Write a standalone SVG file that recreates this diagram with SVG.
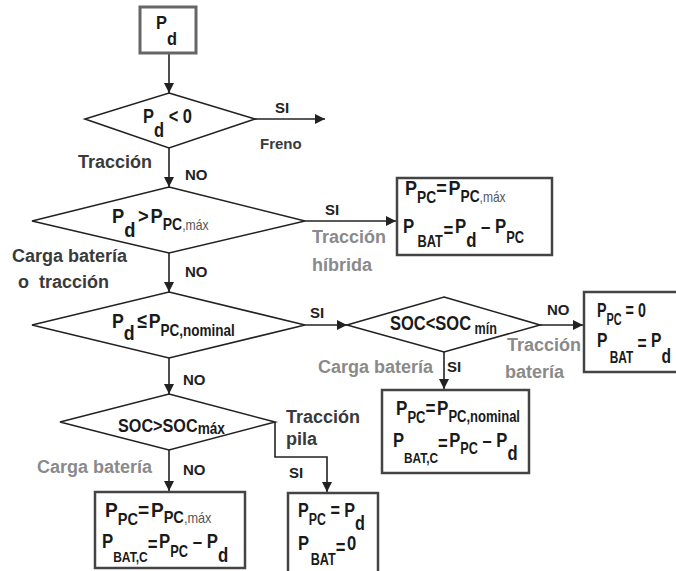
<svg xmlns="http://www.w3.org/2000/svg" width="676" height="571" viewBox="0 0 676 571">
<defs>
<marker id="ah" viewBox="0 0 10 10" refX="10" refY="5" markerWidth="10" markerHeight="10" markerUnits="userSpaceOnUse" orient="auto">
<path d="M0,0 L10,5 L0,10 Z" fill="#222"/>
</marker>
<style>
text{font-family:"Liberation Sans",Arial,sans-serif;font-weight:bold;fill:#1a1a1a}
.eq{font-size:21px}
.sub{font-size:16px}
.lt{font-weight:normal;font-size:14px;fill:#555}
.lbl{font-size:18px;fill:#3a3a3a}
.gl{font-size:18px;fill:#8a8a8a}
.yn{font-size:15px;fill:#222}
.box{fill:#fff;stroke:#444;stroke-width:2.5}
.dia{fill:#fff;stroke:#222;stroke-width:1.6}
.con{fill:none;stroke:#222;stroke-width:1.6;marker-end:url(#ah)}
</style>
</defs>
<rect width="676" height="571" fill="#fff"/>

<g id="connectors">
<path class="con" d="M169,53 V93"/>
<path class="con" d="M255,119 H325"/>
<path class="con" d="M169,148 V187"/>
<path class="con" d="M305,221 H396"/>
<path class="con" d="M169,253 V292"/>
<path class="con" d="M305,325 H347"/>
<path class="con" d="M540,325 H583"/>
<path class="con" d="M444,352 V389"/>
<path class="con" d="M169,358 V394"/>
<path class="con" d="M169,450 V491"/>
<path class="con" d="M275,422 V457 H327 V492"/>
</g>

<g id="labels">
<text class="yn" x="275" y="113">SI</text>
<text class="lbl" x="260" y="149" style="font-size:15px">Freno</text>
<text class="lbl" x="78" y="168">Tracción</text>
<text class="yn" x="185" y="180">NO</text>
<text class="yn" x="325" y="215">SI</text>
<text class="gl" x="312" y="243">Tracción</text>
<text class="gl" x="312" y="271">híbrida</text>
<text class="lbl" x="12" y="262">Carga batería</text>
<text class="lbl" x="18" y="288" xml:space="preserve">o  tracción</text>
<text class="yn" x="185" y="277">NO</text>
<text class="yn" x="310" y="318">SI</text>
<text class="yn" x="547" y="315">NO</text>
<text class="gl" x="507" y="351">Tracción</text>
<text class="gl" x="505" y="378">batería</text>
<text class="gl" x="318" y="373">Carga batería</text>
<text class="yn" x="447" y="372">SI</text>
<text class="yn" x="183" y="385">NO</text>
<text class="lbl" x="286" y="423">Tracción</text>
<text class="lbl" x="286" y="445">pila</text>
<text class="gl" x="37" y="473">Carga batería</text>
<text class="yn" x="183" y="475">NO</text>
<text class="yn" x="289" y="478">SI</text>
</g>

<g id="start">
<rect class="box" x="140" y="7" width="56" height="46" style="stroke:#666;stroke-width:3"/>
<text class="eq" transform="translate(156,29) scale(.865,1)" style="font-size:19px">P<tspan dy="16">d</tspan></text>
</g>

<g id="dec1">
<polygon class="dia" points="169,93 255,119 169,148 85,119"/>
<text class="eq" transform="translate(143,123) scale(.785,1)">P<tspan dy="14">d</tspan><tspan dy="-14"> &lt; 0</tspan></text>
</g>

<g id="dec2">
<polygon class="dia" points="169,187 305,221 169,253 32,221"/>
<text class="eq" transform="translate(112,223) scale(.873,1)">P<tspan dy="14">d</tspan><tspan dy="-14" dx="3">&gt;</tspan><tspan dx="2">P</tspan><tspan class="sub" dy="7">PC</tspan><tspan class="lt">,máx</tspan></text>
</g>

<g id="res-hibrida">
<rect class="box" x="397" y="178" width="155" height="77"/>
<text class="eq" transform="translate(405,195) scale(.86,1)">P<tspan class="sub" dy="8">PC</tspan><tspan dy="-8">=</tspan><tspan dx="2">P</tspan><tspan class="sub" dy="7">PC</tspan><tspan class="lt">,máx</tspan></text>
<text class="eq" transform="translate(403,233) scale(.80,1)">P<tspan class="sub" dy="14" dx="4">BAT</tspan><tspan dy="-10" dx="1">=</tspan><tspan dy="-4" dx="2">P</tspan><tspan dy="14">d</tspan><tspan dy="-14"> – </tspan><tspan>P</tspan><tspan class="sub" dy="10">PC</tspan></text>
</g>

<g id="dec3">
<polygon class="dia" points="169,292 305,325 169,358 32,325"/>
<text class="eq" transform="translate(112,328) scale(.846,1)">P<tspan dy="12">d</tspan><tspan dy="-12" dx="3">≤</tspan><tspan dx="2">P</tspan><tspan class="sub" dy="8">PC,nominal</tspan></text>
</g>

<g id="dec4">
<polygon class="dia" points="444,297 540,325 444,352 347,325"/>
<text class="eq" transform="translate(390,330) scale(.786,1)">SOC&lt;SOC<tspan class="sub" dy="4"> mín</tspan></text>
</g>

<g id="res-bateria">
<rect class="box" x="584" y="292" width="96" height="80"/>
<text class="eq" transform="translate(597,317) scale(.68,1)">P<tspan class="sub" dy="8">PC</tspan><tspan dy="-8"> = 0</tspan></text>
<text class="eq" transform="translate(597,347) scale(.745,1)">P<tspan class="sub" dy="16" dx="3">BAT</tspan><tspan dy="-13"> = </tspan><tspan dy="-3">P</tspan><tspan dy="16">d</tspan></text>
</g>

<g id="res-carga-nominal">
<rect class="box" x="382" y="390" width="147" height="83"/>
<text class="eq" transform="translate(396,415) scale(.813,1)">P<tspan class="sub" dy="8">PC</tspan><tspan dy="-8">=</tspan><tspan dx="2">P</tspan><tspan class="sub" dy="7">PC,nominal</tspan></text>
<text class="eq" transform="translate(393,447) scale(.79,1)">P<tspan class="sub" dy="16" style="font-size:15px">BAT,C</tspan><tspan dy="-13">=</tspan><tspan dy="-3" dx="2">P</tspan><tspan class="sub" dy="7">PC</tspan><tspan dy="-7"> – </tspan><tspan>P</tspan><tspan dy="13">d</tspan></text>
</g>

<g id="dec5">
<polygon class="dia" points="169,394 275,422 169,450 60,422"/>
<text class="eq" transform="translate(118,432) scale(.853,1)" style="font-size:19px">SOC&gt;SOC<tspan class="sub" dy="2">máx</tspan></text>
</g>

<g id="res-carga-max">
<rect class="box" x="95" y="492" width="150" height="76"/>
<text class="eq" transform="translate(105,517) scale(.91,1)">P<tspan class="sub" dy="8">PC</tspan><tspan dy="-8">=</tspan><tspan dx="2">P</tspan><tspan class="sub" dy="6">PC</tspan><tspan class="lt">,máx</tspan></text>
<text class="eq" transform="translate(102,548) scale(.80,1)">P<tspan class="sub" dy="14" style="font-size:15px">BAT,C</tspan><tspan dy="-11">=</tspan><tspan dy="-3" dx="2">P</tspan><tspan class="sub" dy="9">PC</tspan><tspan dy="-9"> – </tspan><tspan>P</tspan><tspan dy="14">d</tspan></text>
</g>

<g id="res-pila">
<rect class="box" x="288" y="493" width="90" height="82"/>
<text class="eq" transform="translate(298,517) scale(.77,1)">P<tspan class="sub" dy="8">PC</tspan><tspan dy="-8"> = </tspan><tspan>P</tspan><tspan dy="13">d</tspan></text>
<text class="eq" transform="translate(298,550) scale(.79,1)">P<tspan class="sub" dy="15" dx="2">BAT</tspan><tspan dy="-11">=</tspan><tspan dy="-4" dx="2">0</tspan></text>
</g>
</svg>
